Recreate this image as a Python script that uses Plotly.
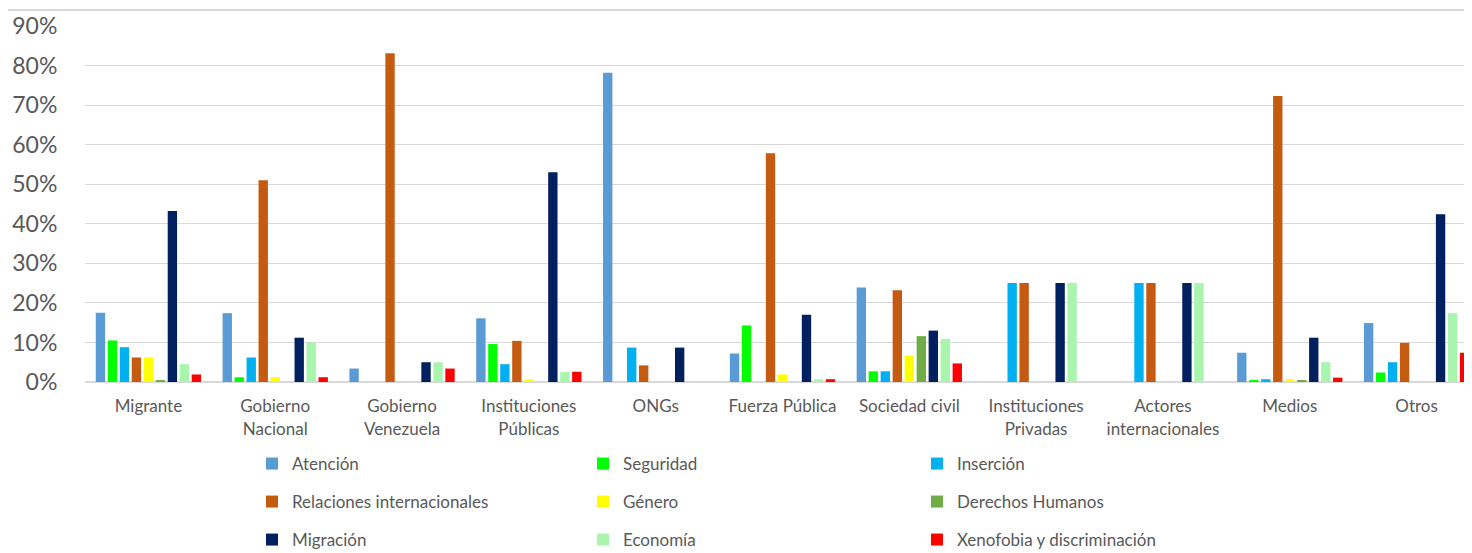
import plotly.graph_objects as go

categories = ["Migrante", "Gobierno<br>Nacional", "Gobierno<br>Venezuela", "Instituciones<br>Públicas",
              "ONGs", "Fuerza Pública", "Sociedad civil", "Instituciones<br>Privadas",
              "Actores<br>internacionales", "Medios", "Otros"]

atencion =      [17.5, 17.4, 3.4, 16.1, 78.2, 7.2, 23.9, 0, 0, 7.4, 14.9]
seguridad =     [10.5, 1.2, 0, 9.6, 0, 14.3, 2.7, 0, 0, 0.4, 2.4]
insercion =     [8.8, 6.2, 0, 4.5, 8.7, 0, 2.7, 25, 25, 0.7, 5.0]
relaciones =    [6.2, 51.0, 83.1, 10.4, 4.2, 57.8, 23.2, 25, 25, 72.3, 9.9]
genero =        [6.2, 1.2, 0, 0.6, 0, 1.9, 6.7, 0, 0, 0.7, 0]
ddhh =          [0.5, 0, 0, 0, 0, 0, 11.6, 0, 0, 0.4, 0]
migracion =     [43.2, 11.2, 5.0, 53.0, 8.7, 17.0, 13.0, 25, 25, 11.2, 42.4]
economia =      [4.5, 10.0, 5.0, 2.5, 0, 0.7, 10.9, 25, 25, 5.0, 17.4]
xenofobia =     [1.9, 1.2, 3.4, 2.6, 0, 0.7, 4.7, 0, 0, 1.1, 7.4]

series_names = ["Atención", "Seguridad", "Inserción", "Relaciones internacionales", "Género",
                "Derechos Humanos", "Migración", "Economía", "Xenofobia y discriminación"]
series_values = [atencion, seguridad, insercion, relaciones, genero, ddhh, migracion, economia, xenofobia]
series_colors = ["#5B9BD5", "#00FF00", "#00B0F0", "#C55A11", "#FFFF00",
                 "#70AD47", "#002060", "#A9F5AE", "#FF0000"]

W, H = 1472, 553
FONT = "Lato"
GREY = "#595959"

fig = go.Figure()
legend_layouts = {}
col_text_x = [292, 623, 957]
row_y = [456, 494, 532]
for i, (name, vals, col) in enumerate(zip(series_names, series_values, series_colors)):
    lname = "legend" if i == 0 else f"legend{i+1}"
    fig.add_trace(go.Bar(
        x=categories, y=[v / 100 for v in vals], name=name,
        marker=dict(color=col, line=dict(width=0)),
        legend=lname,
    ))
    c, r = i % 3, i // 3
    legend_layouts[lname] = dict(
        xref="container", yref="container",
        x=(col_text_x[c] - 48) / W, y=1 - row_y[r] / H,
        xanchor="left", yanchor="middle",
        bgcolor="rgba(0,0,0,0)",
        font=dict(family=FONT, size=17, color=GREY),
    )

# figure coordinates (page is drawn with an 8px body offset)
plot_left, plot_top, plot_bottom = 77, 18, 374
plot_right = W

fig.update_layout(
    width=W, height=H,
    margin=dict(l=plot_left, r=W - plot_right, t=plot_top, b=H - plot_bottom, autoexpand=False),
    paper_bgcolor="white", plot_bgcolor="white",
    barmode="group", bargap=0.149, bargroupgap=0.22,
    showlegend=True,
    font=dict(family=FONT, color=GREY),
    **legend_layouts,
)
fig.update_xaxes(
    range=[-0.5, 10.5], showgrid=False, zeroline=False, showline=False,
    ticks="outside", ticklen=9, tickcolor="rgba(0,0,0,0)", tickangle=0,
    tickfont=dict(family=FONT, size=17, color=GREY),
    automargin=False, fixedrange=True,
)
fig.update_yaxes(
    range=[0, 0.9], dtick=0.1, tickformat=".0%",
    showgrid=True, gridcolor="#D9D9D9", gridwidth=1,
    zeroline=True, zerolinecolor="#D9D9D9", zerolinewidth=2,
    ticks="outside", ticklen=22, tickcolor="rgba(0,0,0,0)",
    tickfont=dict(family=FONT, size=23, color=GREY),
    automargin=False, fixedrange=True,
)
# chart frame top border
fig.add_shape(type="line", xref="paper", yref="paper",
              x0=-plot_left / (plot_right - plot_left), x1=1,
              y0=1 + 16 / (plot_bottom - plot_top), y1=1 + 16 / (plot_bottom - plot_top),
              line=dict(color="#D9D9D9", width=2))

fig.write_html("out.html")
